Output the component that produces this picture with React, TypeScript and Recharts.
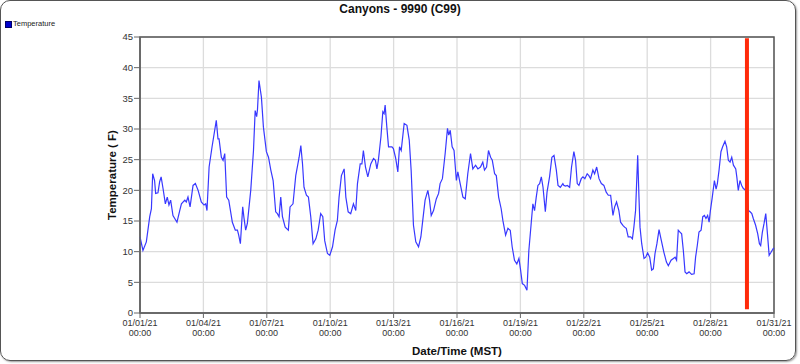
import React from 'react';
import { LineChart, Line, XAxis, YAxis, CartesianGrid, ReferenceLine, ReferenceArea, Label } from 'recharts';

// Elapsed days since 01/01/21 00:00 (MST)
const dayOffsets: number[] = [
  0.0, 0.14, 0.3, 0.46, 0.54, 0.6, 0.69, 0.74, 0.85, 0.93, 1.0, 1.09, 1.2, 1.29, 1.37, 1.45, 1.56, 1.75, 1.88, 1.96,
  2.12, 2.19, 2.27, 2.37, 2.51, 2.62, 2.75, 2.9, 3.03, 3.11, 3.17, 3.27, 3.41, 3.61, 3.69, 3.74, 3.85, 3.93, 4.01, 4.1,
  4.2, 4.37, 4.51, 4.61, 4.67, 4.75, 4.86, 4.92, 5.0, 5.08, 5.24, 5.37, 5.45, 5.52, 5.56, 5.63, 5.745, 5.84, 5.98, 6.08,
  6.19, 6.3, 6.42, 6.5, 6.58, 6.66, 6.74, 6.87, 7.02, 7.1, 7.24, 7.37, 7.53, 7.61, 7.69, 7.76, 7.875, 7.97, 8.08, 8.19,
  8.32, 8.43, 8.55, 8.65, 8.74, 8.87, 8.98, 9.11, 9.23, 9.34, 9.42, 9.53, 9.66, 9.74, 9.85, 9.97, 10.1, 10.21, 10.29, 10.42,
  10.5, 10.57, 10.67, 10.78, 10.92, 11.05, 11.14, 11.21, 11.28, 11.4, 11.49, 11.55, 11.6, 11.68, 11.76, 11.92, 11.99, 12.1, 12.2, 12.28,
  12.36, 12.5, 12.63, 12.74, 12.83, 12.94, 13.05, 13.18, 13.29, 13.38, 13.49, 13.62, 13.7, 13.78, 13.89, 14.02, 14.13, 14.2, 14.31, 14.44,
  14.55, 14.61, 14.68, 14.77, 14.86, 14.97, 15.04, 15.15, 15.28, 15.39, 15.51, 15.64, 15.75, 15.88, 15.99, 16.11, 16.22, 16.3, 16.4, 16.49,
  16.59, 16.67, 16.78, 16.86, 16.97, 17.09, 17.17, 17.3, 17.41, 17.52, 17.61, 17.72, 17.83, 17.93, 18.01, 18.09, 18.2, 18.31, 18.4, 18.51,
  18.59, 18.67, 18.75, 18.83, 18.91, 18.99, 19.07, 19.18, 19.26, 19.38, 19.49, 19.59, 19.7, 19.78, 19.89, 20.01, 20.06, 20.14, 20.22, 20.33,
  20.42, 20.53, 20.61, 20.69, 20.77, 20.88, 20.96, 21.05, 21.16, 21.24, 21.32, 21.43, 21.51, 21.61, 21.72, 21.83, 21.95, 22.06, 22.16, 22.27,
  22.38, 22.46, 22.55, 22.66, 22.74, 22.85, 22.93, 23.01, 23.1, 23.22, 23.3, 23.37, 23.45, 23.55, 23.61, 23.66, 23.74, 23.85, 23.93, 24.02,
  24.12, 24.21, 24.29, 24.37, 24.46, 24.56, 24.67, 24.79, 24.91, 25.0, 25.13, 25.24, 25.32, 25.39, 25.47, 25.55, 25.63, 25.71, 25.79, 25.87,
  25.98, 26.1, 26.22, 26.29, 26.37, 26.45, 26.55, 26.63, 26.71, 26.78, 26.86, 26.93, 26.99, 27.08, 27.18, 27.26, 27.32, 27.4, 27.49, 27.57,
  27.68, 27.76, 27.84, 27.92, 28.0, 28.08, 28.19, 28.24, 28.31, 28.39, 28.47, 28.55, 28.63, 28.71, 28.79, 28.87, 28.95, 29.02, 29.13, 29.23,
  29.31, 29.37, 29.45, 29.53, 29.61, 29.69, 29.77, 29.86, 29.96, 30.0,
];

// Temperature (F)
const temperatures: number[] = [
  12.4, 10.2, 11.6, 15.7, 17.0, 22.7, 21.6, 19.5, 19.6, 21.4, 22.2, 20.3, 17.8, 18.9, 17.6, 18.4, 15.9, 14.8, 16.7, 17.8,
  18.4, 18.1, 18.9, 17.3, 20.8, 21.1, 20.0, 18.1, 17.6, 17.8, 16.7, 23.8, 27.1, 31.4, 28.4, 28.4, 25.4, 24.9, 26.0, 18.9,
  18.4, 14.8, 13.5, 13.5, 12.7, 11.3, 17.3, 15.5, 13.5, 14.6, 20.0, 26.5, 33.0, 32.0, 33.2, 37.9, 35.2, 30.3, 26.3, 25.4,
  23.3, 21.6, 16.5, 16.2, 15.7, 18.9, 15.7, 14.0, 13.5, 17.3, 17.8, 22.4, 25.4, 27.3, 24.3, 20.5, 19.2, 18.9, 15.7, 11.3,
  12.1, 13.5, 16.2, 15.7, 11.8, 9.7, 9.4, 10.8, 13.5, 15.1, 18.9, 22.4, 23.5, 18.9, 16.5, 16.2, 17.8, 16.7, 21.1, 24.3,
  24.3, 26.5, 23.8, 22.2, 24.3, 25.2, 24.9, 23.5, 24.9, 28.7, 32.8, 32.5, 33.9, 30.3, 27.1, 27.1, 26.8, 25.2, 23.0, 27.1,
  26.5, 30.9, 30.6, 28.2, 23.3, 14.3, 11.6, 10.8, 12.4, 15.1, 18.4, 20.0, 18.4, 15.9, 16.7, 18.6, 19.5, 21.1, 21.9, 26.0,
  30.1, 29.0, 29.8, 27.1, 26.5, 21.6, 23.0, 21.1, 18.9, 18.6, 22.7, 26.0, 23.5, 24.1, 23.5, 23.8, 24.6, 23.3, 23.8, 26.5,
  25.4, 24.9, 22.7, 22.4, 18.9, 17.0, 15.1, 12.7, 13.8, 13.5, 10.8, 8.6, 8.0, 8.9, 7.0, 4.8, 4.5, 3.7, 10.2, 14.6,
  17.8, 16.7, 18.9, 20.8, 21.1, 22.2, 20.5, 16.5, 19.7, 22.2, 25.4, 25.7, 23.3, 20.8, 20.5, 21.1, 20.8, 20.7, 20.8, 20.5,
  23.8, 26.3, 24.9, 21.1, 20.8, 21.9, 22.2, 21.9, 22.7, 22.4, 21.9, 23.3, 22.7, 23.8, 21.9, 21.1, 20.8, 19.7, 19.2, 19.2,
  15.9, 17.3, 18.1, 16.7, 14.8, 14.3, 14.0, 13.8, 12.4, 12.4, 12.1, 14.0, 16.7, 25.7, 18.9, 14.0, 11.3, 8.9, 9.1, 9.8,
  9.1, 7.0, 7.2, 9.7, 11.3, 13.6, 11.8, 9.9, 8.3, 7.7, 8.6, 8.9, 9.1, 8.6, 13.5, 13.2, 12.9, 10.2, 6.7, 6.4,
  6.7, 6.3, 6.4, 9.1, 11.0, 13.2, 13.5, 15.7, 15.9, 15.4, 15.9, 14.8, 16.7, 18.9, 21.6, 20.2, 21.1, 23.3, 26.3, 27.1,
  28.0, 27.1, 24.9, 24.6, 25.4, 24.1, 23.5, 22.2, 20.0, 21.6, 20.8, 20.3, 20.1, 19.5, 16.7, 16.5, 16.2, 15.4, 14.3, 12.9,
  11.3, 11.0, 13.2, 14.6, 16.2, 12.9, 9.4, 9.9, 10.5, 10.6,
];

const xTicks: number[] = [0, 3, 6, 9, 12, 15, 18, 21, 24, 27, 30];
const xTickDates: string[] = ['01/01/21', '01/04/21', '01/07/21', '01/10/21', '01/13/21', '01/16/21', '01/19/21', '01/22/21', '01/25/21', '01/28/21', '01/31/21'];
const xTickTime = '00:00';
const yTicks: number[] = [0, 5, 10, 15, 20, 25, 30, 35, 40, 45];

// Current-time marker (days) and its vertical extent (F)
const markerDay: number[] = [28.72];
const markerRange: number[] = [0.6, 44.8];

const data = dayOffsets.map((d, i) => ({ day: d, temp: temperatures[i] }));

const FONT = '"Liberation Sans", Arial, sans-serif';

const XTick = (props: any) => {
  const { x, y, payload } = props;
  const i = xTicks.indexOf(payload.value);
  return (
    <text x={x} y={y} textAnchor="middle" fontSize={9} fill="#333" fontFamily={FONT}>
      <tspan x={x} dy={6.3}>{xTickDates[i]}</tspan>
      <tspan x={x} dy={10}>{xTickTime}</tspan>
    </text>
  );
};

export default function App() {
  return (
    <div style={{ position: 'absolute', left: 0, top: 0, width: 800, height: 364, background: '#fff', fontFamily: FONT }}>
      <div
        style={{
          position: 'absolute', left: 0, top: 0, width: 794, height: 359,
          border: '1.5px solid #555', borderRadius: 10, boxShadow: '1px 1px 2px #999',
        }}
      />
      <div style={{ position: 'absolute', left: 0, top: 2, width: 800, textAlign: 'center', fontWeight: 'bold', fontSize: 12, lineHeight: '14px', color: '#111' }}>
        Canyons - 9990 (C99)
      </div>
      <div style={{ position: 'absolute', left: 5, top: 21, width: 5, height: 5, background: '#0000cc', border: '0.5px solid #000066' }} />
      <div style={{ position: 'absolute', left: 13, top: 19, fontSize: 7.5, lineHeight: '10px', color: '#222' }}>Temperature</div>
      <div style={{ position: 'absolute', left: 0, top: 0 }}>
        <LineChart width={800} height={364} data={data} margin={{ top: 37, right: 26, bottom: 0, left: 0 }}>
          <CartesianGrid stroke="#dcdcdc" strokeWidth={1.3} />
          <XAxis
            dataKey="day"
            type="number"
            domain={[0, 30]}
            ticks={xTicks}
            interval={0}
            height={51}
            tick={<XTick />}
            tickSize={5}
            tickLine={{ stroke: '#666' }}
            axisLine={{ stroke: '#666', strokeWidth: 1.5 }}
          >
            <Label value="Date/Time (MST)" position="center" dy={12} fontSize={11.5} fontWeight="bold" fill="#111" fontFamily={FONT} />
          </XAxis>
          <YAxis
            type="number"
            domain={[0, 45]}
            ticks={yTicks}
            interval={0}
            width={140}
            tickSize={6}
            tickMargin={1}
            tick={{ fontSize: 9.5, fill: '#333', fontFamily: FONT }}
            tickLine={{ stroke: '#666' }}
            axisLine={{ stroke: '#666', strokeWidth: 1.5 }}
          >
            <Label value="Temperature ( F)" angle={-90} position="center" dx={42} fontSize={11.5} fontWeight="bold" fill="#111" fontFamily={FONT} />
          </YAxis>
          <ReferenceArea x1={0} x2={30} y1={0} y2={45} fill="none" stroke="#555" strokeWidth={1.5} />
          <Line
            type="linear"
            dataKey="temp"
            stroke="#3838ff"
            strokeWidth={1.2}
            dot={false}
            isAnimationActive={false}
          />
          <ReferenceLine
            segment={[{ x: markerDay[0], y: markerRange[0] }, { x: markerDay[0], y: markerRange[1] }]}
            stroke="#ff2a0a"
            strokeWidth={4}
          />
        </LineChart>
      </div>
    </div>
  );
}
